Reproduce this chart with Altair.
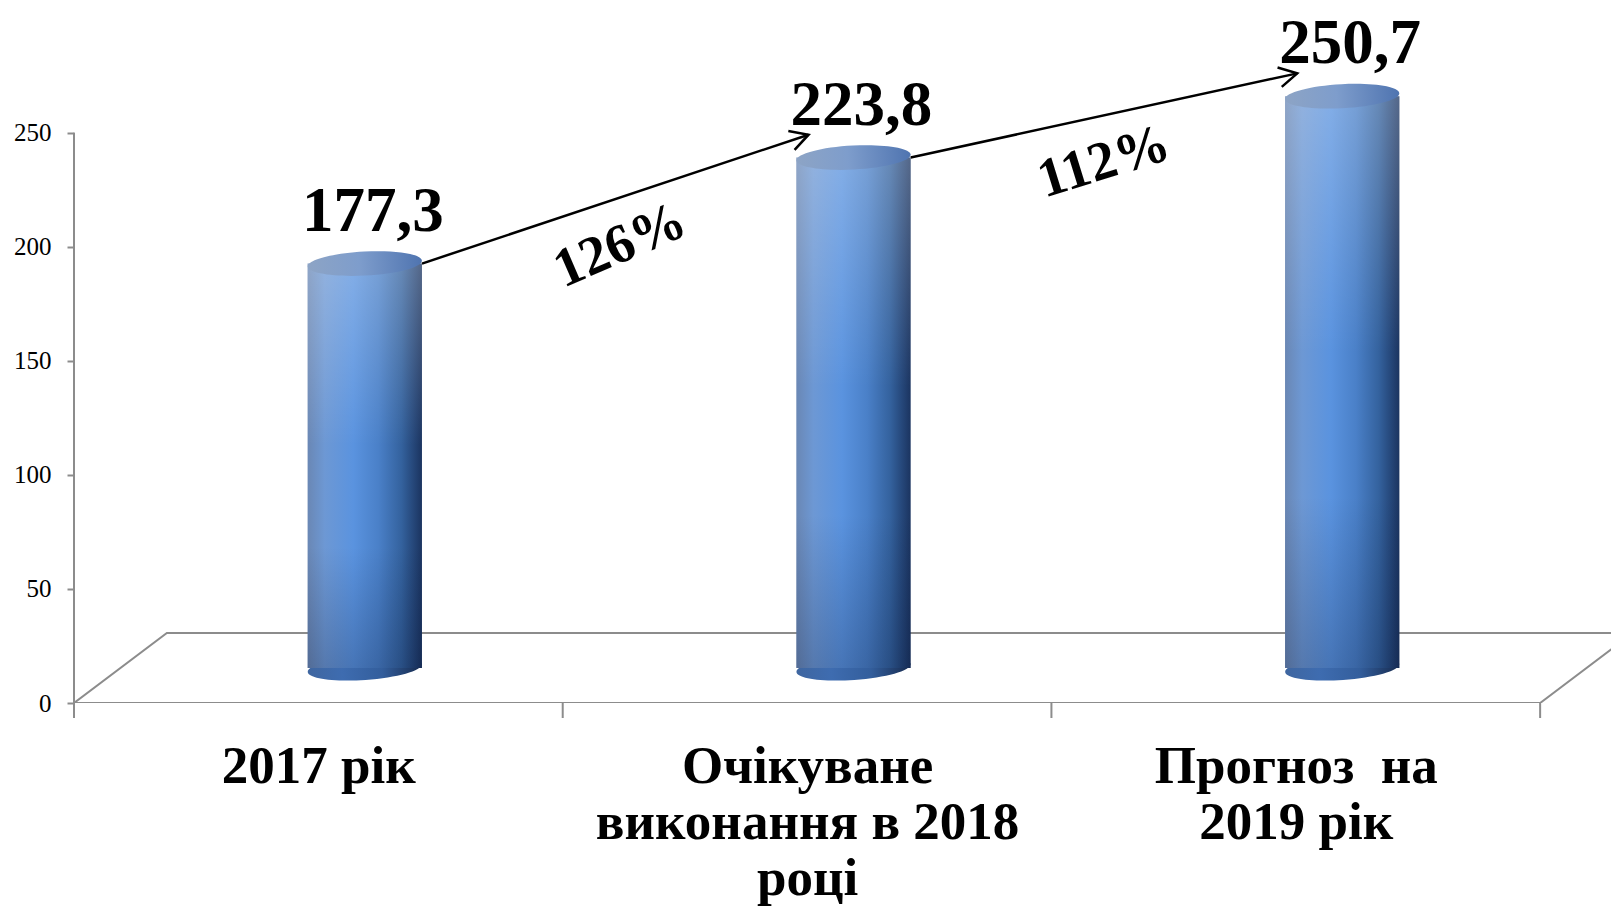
import json
import math
import altair as alt
import pandas as pd

# ---------------- data ----------------
categories = ["2017 рік", "Очікуване виконання в 2018 році", "Прогноз  на 2019 рік"]
category_lines = [["2017 рік"], ["Очікуване", "виконання в 2018", "році"], ["Прогноз  на", "2019 рік"]]
values = [177.3, 223.8, 250.7]
value_labels = ["177,3", "223,8", "250,7"]
growth_labels = ["126%", "112%"]
y_ticks = [0, 50, 100, 150, 200, 250]

# ---------------- layout / 3-D look ----------------
W, H = 1537, 695
X_MAX = 3.145
Y_MAX = 304.7
px_x = W / X_MAX
px_y = H / Y_MAX
DEPTH_X = 0.19
DEPTH_Y = 30.7
BAR_W = 0.234
n = len(categories)
GRAY = "#8c8c8c"
FONT = "Liberation Serif"

xs = alt.Scale(domain=[0, X_MAX], nice=False, zero=False)
ys = alt.Scale(domain=[0, Y_MAX], nice=False, zero=False)

# keep the double space visible in SVG text
shown_lines = [[ln.replace("  ", "\u00a0 ") for ln in lines] for lines in category_lines]
label_expr = json.dumps(shown_lines, ensure_ascii=False) + "[floor(datum.value)]"

x_axis = alt.Axis(values=[i + 0.5 for i in range(n)], labelExpr=label_expr, ticks=False,
                  domain=False, grid=False, tickSize=0, labelPadding=37, labelFont=FONT,
                  labelFontSize=53, labelFontWeight="bold", labelColor="black",
                  labelLineHeight=56, labelOverlap=False, labelFlush=False, labelBound=False,
                  labelBaseline="top", labelLimit=1000, title=None)
y_axis = alt.Axis(values=y_ticks, domain=False, grid=False, tickColor=GRAY, tickSize=7,
                  tickWidth=2, labelPadding=16, labelFont=FONT, labelFontSize=25,
                  labelColor="black", title=None)


def X(f):
    return alt.X(f, scale=xs, axis=x_axis)


def Y(f):
    return alt.Y(f, scale=ys, axis=y_axis)


# bars table
rows = []
for i, (v, lab) in enumerate(zip(values, value_labels)):
    c = i + 0.5 + DEPTH_X / 2
    rows.append(dict(cat=categories[i], cx=c, x=c - BAR_W / 2, x2=c + BAR_W / 2,
                     base=DEPTH_Y / 2, top=v + DEPTH_Y / 2, label=lab))
bars = pd.DataFrame(rows)

# arrows table
arows = []
for i, g in enumerate(growth_labels):
    a, b = rows[i], rows[i + 1]
    x1, y1 = a["x2"], a["top"]
    x2, y2 = b["x"] + 0.025, b["top"] + 10
    ang = math.degrees(math.atan2(-(y2 - y1) * px_y, (x2 - x1) * px_x))
    arows.append(dict(ax1=x1, ay1=y1, ax2=x2, ay2=y2, aang=ang % 360,
                      tang=(ang - 5) % 360, mx=(x1 + x2) / 2, my=(y1 + y2) / 2, pct=g))
arrows = pd.DataFrame(arows)

# floor outline
floor = pd.DataFrame(dict(
    fx=[0, DEPTH_X, n + DEPTH_X, n, 0],
    fy=[0, DEPTH_Y, DEPTH_Y, 0, 0],
    ord=[0, 1, 2, 3, 4]))

floor_layer = alt.Chart(floor).mark_line(color=GRAY, strokeWidth=2, clip=True).encode(
    x=X("fx:Q"), y=Y("fy:Q"), order=alt.Order("ord:Q"))

yline = alt.Chart(pd.DataFrame(dict(x=[0], y=[y_ticks[0]], y2=[y_ticks[-1]]))).mark_rule(
    color=GRAY, strokeWidth=2).encode(x=X("x:Q"), y=Y("y:Q"), y2="y2:Q")

xticks = alt.Chart(pd.DataFrame(dict(xt=list(range(n + 1))))).mark_rule(
    color=GRAY, strokeWidth=2).encode(x=X("xt:Q"), y=alt.value(H), y2=alt.value(H + 15))


def lin(stops, horizontal=True):
    return {"gradient": "linear", "x1": 0, "y1": 0,
            "x2": 1 if horizontal else 0, "y2": 0 if horizontal else 1,
            "stops": [{"offset": o, "color": c} for o, c in stops]}


body_grad = lin([(0, "#6a87b4"), (0.15, "#6d98d4"), (0.4, "#5a93df"), (0.62, "#4a80c8"),
                 (0.82, "#34629e"), (1, "#1b3460")])
shade_grad = lin([(0, "rgba(255,255,255,0.25)"), (0.45, "rgba(255,255,255,0)"),
                  (0.7, "rgba(0,10,40,0)"), (1, "rgba(0,10,40,0.22)")], horizontal=False)
bottom_grad = lin([(0, "#3f66a0"), (0.3, "#3e6cb0"), (0.65, "#335e9c"), (1, "#172b4f")])
top_grad = lin([(0, "#8da4c5"), (0.45, "#7e9dcc"), (1, "#4f74b0")])

k = 0.21
c = 0.552
ellipse = (f"M-1,0 C-1,{-c*k:.4f} {-c:.3f},{-k} 0,{-k} C{c:.3f},{-k} 1,{-c*k:.4f} 1,0 "
           f"C1,{c*k:.4f} {c:.3f},{k} 0,{k} C{-c:.3f},{k} -1,{c*k:.4f} -1,0 Z")
ell_size = (BAR_W * px_x) ** 2

base = alt.Chart(bars)
bottom_cap = base.mark_point(shape=ellipse, size=ell_size, filled=True, fill=bottom_grad,
                             strokeWidth=0, opacity=1, angle=356).encode(
    x=X("cx:Q"), y=Y("base:Q"))
body = base.mark_bar(color=body_grad).encode(
    x=X("x:Q"), x2="x2:Q", y=Y("base:Q"), y2="top:Q")
shade = base.mark_bar(color=shade_grad).encode(
    x=X("x:Q"), x2="x2:Q", y=Y("base:Q"), y2="top:Q")
top_cap = base.mark_point(shape=ellipse, size=ell_size, filled=True, fill=top_grad,
                          strokeWidth=0, opacity=1, angle=357).encode(
    x=X("cx:Q"), y=Y("top:Q"))
vlabels = base.mark_text(font=FONT, fontSize=63, fontWeight="bold", baseline="alphabetic",
                         align="center", dy=-33, dx=8, color="black").encode(
    x=X("cx:Q"), y=Y("top:Q"), text="label:N")

arr = alt.Chart(arrows)
arrow_lines = arr.mark_rule(color="black", strokeWidth=2.5).encode(
    x=X("ax1:Q"), y=Y("ay1:Q"), x2="ax2:Q", y2="ay2:Q")
arrow_heads = arr.mark_point(shape="M-1,-0.55 L0,0 L-1,0.55", filled=False, stroke="black",
                             strokeWidth=2.5, size=1296, opacity=1).encode(
    x=X("ax2:Q"), y=Y("ay2:Q"), angle=alt.Angle("aang:Q", scale=None))
pct_text = arr.mark_text(font=FONT, fontSize=55, fontWeight="bold", baseline="middle",
                         align="center", dx=-14, dy=44, color="black").encode(
    x=X("mx:Q"), y=Y("my:Q"), text="pct:N", angle=alt.Angle("tang:Q", scale=None))

chart = alt.layer(
    floor_layer, yline, xticks, bottom_cap, body, shade, top_cap,
    arrow_lines, arrow_heads, vlabels, pct_text
).properties(
    width=W, height=H,
    background="white",
    autosize=alt.AutoSizeParams(type="none"),
    padding={"left": 66, "top": 0, "right": 0, "bottom": 205},
).configure_view(strokeWidth=0, stroke=None)

chart.save("out.html", embed_options={"renderer": "svg", "actions": False})
